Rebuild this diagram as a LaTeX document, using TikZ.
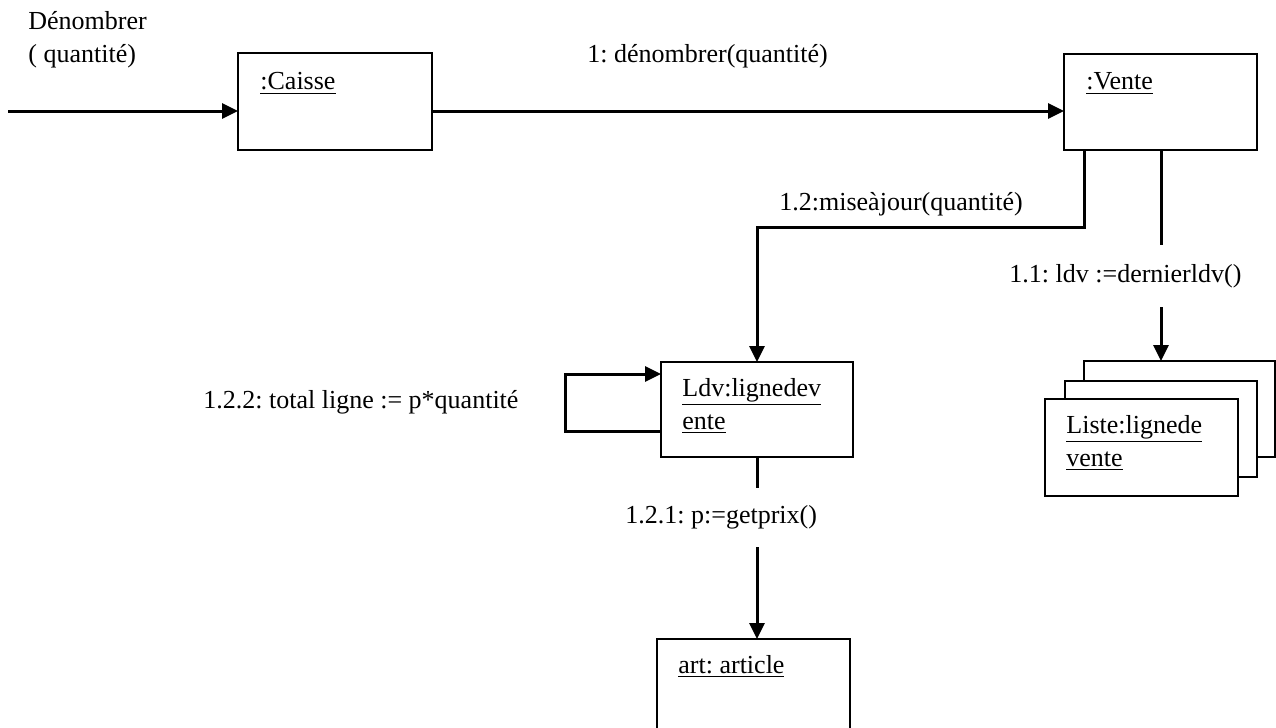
\documentclass[tikz,border=0pt]{standalone}
\usepackage{fontspec}
\setmainfont{Liberation Serif}
\frenchspacing
\usetikzlibrary{arrows.meta}
\tikzset{
  objbox/.style={draw, line width=1pt, fill=white, anchor=north west, inner sep=0pt, outer sep=0pt},
  objname/.style={anchor=base west, inner sep=0pt, align=left},
  msgtext/.style={anchor=base west, inner sep=0pt, align=left},
  msg/.style={line width=1.5pt, -{Triangle[length=8pt,width=7.5pt]}},
  link/.style={line width=1.5pt}
}

\begin{document}
\begin{tikzpicture}[x=0.5pt, y=-0.5pt, font=\fontsize{13}{16.5}\selectfont]
            \useasboundingbox (0,0) rectangle (1276,728);
            \node[objbox, minimum width=97pt, minimum height=48.5pt] (caisse) at (238,53) {};
            \node[objbox, minimum width=96.5pt, minimum height=48pt] (vente) at (1064,54) {};
            \node[objbox, minimum width=96pt, minimum height=47.5pt] (ldv) at (661,362) {};
            \node[objbox, minimum width=96.5pt, minimum height=50pt] (art) at (657,639) {};
            \node[objbox, minimum width=95.5pt, minimum height=48pt] (liste3) at (1084,361) {};
            \node[objbox, minimum width=96pt, minimum height=48pt] (liste2) at (1065,381) {};
            \node[objbox, minimum width=96.5pt, minimum height=48.5pt] (liste) at (1045,399) {};
            \node[objname] (caissename) at (260,90) {\underline{:Caisse}};
            \node[objname] (ventename) at (1086,90) {\underline{:Vente}};
            \node[objname] (ldvname) at (682,429) {\underline{Ldv:lignedev}\\\underline{ente}};
            \node[objname] (listename) at (1066,466) {\underline{Liste:lignede}\\\underline{vente}};
            \node[objname] (artname) at (678,673) {\underline{art: article}};
            \node[msgtext] (entry) at (28,62) {Dénombrer\\( quantité)};
            \node[msgtext] (msg1) at (587,62) {1: dénombrer(quantité)};
            \node[msgtext] (msg12) at (779,210) {1.2:miseàjour(quantité)};
            \node[msgtext] (msg11) at (1009,282) {1.1: ldv :=dernierldv()};
            \node[msgtext] (msg122) at (203,408) {1.2.2: total ligne := p*quantité};
            \node[msgtext] (msg121) at (625,523) {1.2.1: p:=getprix()};
            \coordinate (in) at (8,111);
            \draw[msg] (in) -- (in -| caisse.west);
            \draw[msg] (in -| caisse.east) -- (in -| vente.west);
            \coordinate (turn) at (1084,227);
            \coordinate (drop) at (757,227);
            \draw[msg] (turn |- vente.south) -- (turn) -- (drop) -- (drop |- ldv.north);
            \coordinate (cut1) at (1161,245);
            \coordinate (cut2) at (1161,307);
            \draw[link] (cut1 |- vente.south) -- (cut1);
            \draw[msg] (cut2) -- (cut2 |- liste3.north);
            \coordinate (loopa) at (565,431);
            \coordinate (loopb) at (565,374);
            \draw[msg] (loopa -| ldv.west) -- (loopa) -- (loopb) -- (loopb -| ldv.west);
            \coordinate (cut3) at (757,488);
            \coordinate (cut4) at (757,547);
            \draw[link] (cut3 |- ldv.south) -- (cut3);
            \draw[msg] (cut4) -- (cut4 |- art.north);
        \end{tikzpicture}
\end{document}
